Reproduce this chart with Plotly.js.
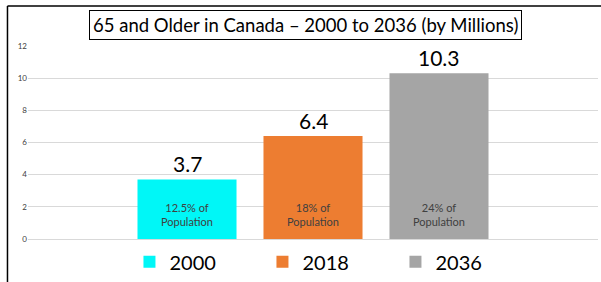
<!DOCTYPE html>
<html>
<head>
<meta charset="utf-8">
<script src="https://cdn.plot.ly/plotly-3.0.1.min.js"></script>
<style>html,body{margin:0;padding:0;background:#fff;}#chart{width:601px;height:282px;}</style>
</head>
<body>
<div id="chart"></div>
<script>
const years = ["2000", "2018", "2036"];
const millions = [3.7, 6.4, 10.3];
const valueLabels = ["3.7", "6.4", "10.3"];
const shareLabels = ["12.5% of<br>Population", "18% of<br>Population", "24% of<br>Population"];
const colors = ["#00F7F7", "#ED7D31", "#A5A5A5"];
const yTicks = [0, 2, 4, 6, 8, 10, 12];
const titleText = "65 and Older in Canada \u2013 2000 to 2036 (by Millions)";

const FONT = "Lato, 'Open Sans', sans-serif";

const traces = years.map((yr, i) => ({
  type: "bar",
  name: yr,
  x: [yr],
  y: [millions[i]],
  width: 0.786,
  marker: {color: colors[i]},
  hoverinfo: "none"
}));

const annotations = [];
years.forEach((yr, i) => {
  annotations.push({
    x: i, y: millions[i], xref: "x", yref: "y",
    text: valueLabels[i], showarrow: false,
    yanchor: "bottom", yshift: 1,
    font: {family: FONT, size: 21, color: "#000"}
  });
  annotations.push({
    x: i, y: 0, xref: "x", yref: "y",
    text: shareLabels[i], showarrow: false,
    yanchor: "bottom", yshift: 9,
    font: {family: FONT, size: 11, color: "#404040"}
  });
});
annotations.push({
  x: 0.4877, y: 1.11, xref: "paper", yref: "paper",
  xanchor: "center", yanchor: "middle",
  text: titleText, showarrow: false,
  bordercolor: "#000", borderwidth: 1, borderpad: 3, bgcolor: "#fff",
  font: {family: FONT, size: 18.5, color: "#000"}
});

const layout = {
  width: 601, height: 282,
  margin: {l: 28, r: 3, t: 46, b: 43, autoexpand: false},
  paper_bgcolor: "#fff", plot_bgcolor: "#fff",
  barmode: "overlay",
  showlegend: true,
  legend: {
    orientation: "h", x: 0.178, y: -0.118, xanchor: "left", yanchor: "middle",
    entrywidth: 88, entrywidthmode: "pixels",
    font: {family: FONT, size: 20, color: "#000"},
    itemclick: false
  },
  xaxis: {
    type: "category", range: [-1.262, 3.262],
    showticklabels: false, showgrid: false, zeroline: false, showline: false, ticks: ""
  },
  yaxis: {
    range: [0, 12], tickvals: yTicks, ticktext: yTicks.map(String),
    showgrid: true, gridcolor: "#D9D9D9", gridwidth: 1,
    zeroline: true, zerolinecolor: "#D9D9D9", zerolinewidth: 1,
    showline: false, ticks: "",
    tickfont: {family: FONT, size: 8, color: "#404040"}
  },
  annotations: annotations,
  shapes: [
    {type: "line", xref: "paper", yref: "paper", x0: -0.036, x1: -0.036, y0: 1.207, y1: -0.3, line: {color: "#000", width: 1.5}},
    {type: "line", xref: "paper", yref: "paper", x0: -0.036, x1: 1.1, y0: 1.207, y1: 1.207, line: {color: "#000", width: 1.5}}
  ]
};

Plotly.newPlot("chart", traces, layout, {displayModeBar: false, staticPlot: true});
</script>
</body>
</html>
